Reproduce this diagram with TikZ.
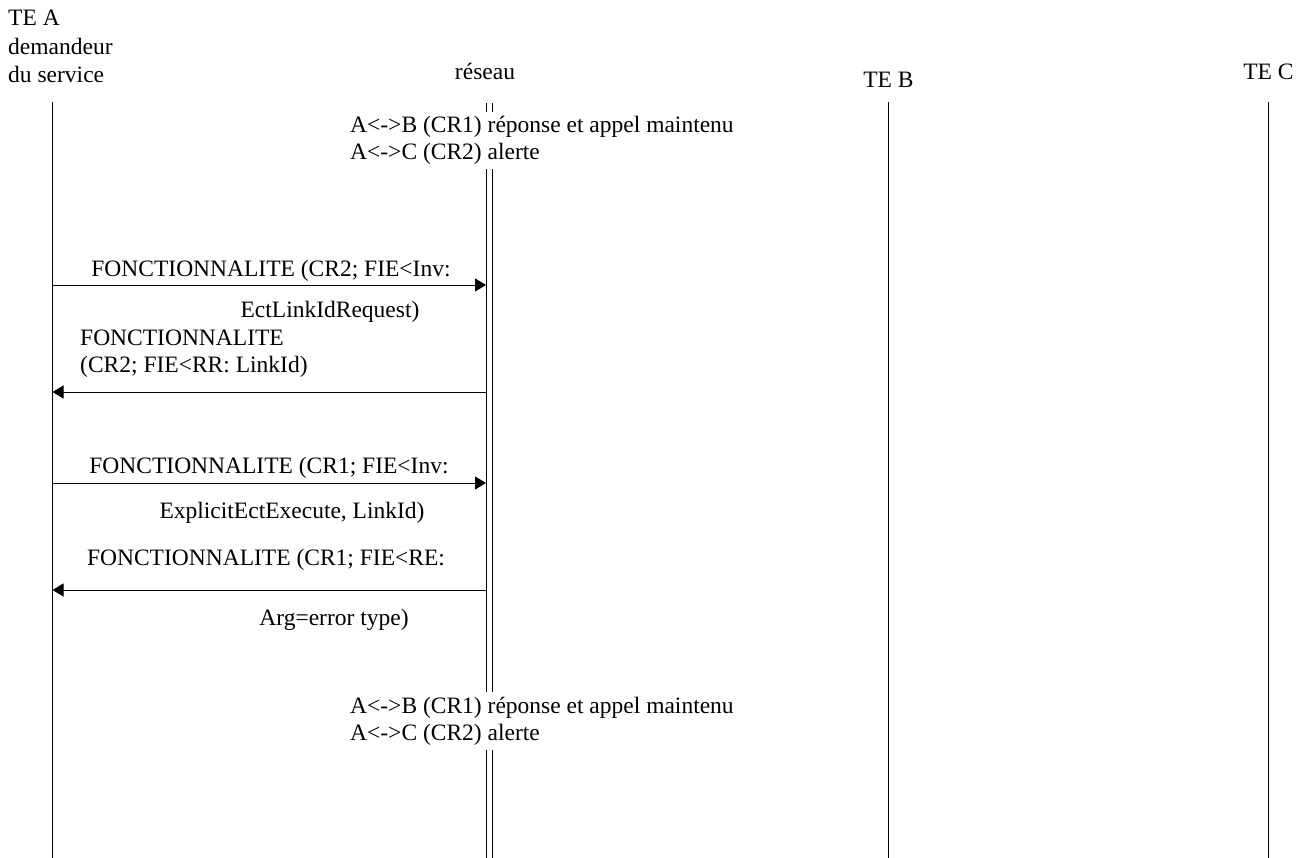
\documentclass[tikz,border=0pt]{standalone}
\usepackage{fontspec}
\setmainfont{Liberation Serif}
\usetikzlibrary{arrows.meta}
\begin{document}
\begin{tikzpicture}[x=1pt,y=-1pt,
  lbl/.style={font=\fontsize{23.5}{27}\selectfont, inner sep=0pt},
  life/.style={line width=1pt},
  msg/.style={line width=0.9pt,-{Triangle[length=11pt,width=13pt]}},
  note/.style={lbl, fill=white, inner ysep=4.5pt, inner xsep=0pt, anchor=base west}]
\useasboundingbox (0,0) rectangle (1307,858);

% headers
\node[lbl,anchor=base west] (ta1) at (8,26) {TE A};
\node[lbl,anchor=base west] (ta2) at (8,55) {demandeur};
\node[lbl,anchor=base west] (ta3) at (8,83) {du service};
\node[lbl,anchor=base] (net) at (485,80) {réseau};
\node[lbl,anchor=base] (teb) at (888.5,88) {TE B};
\node[lbl,anchor=base] (tec) at (1268.5,80) {TE C};

% lifelines
\coordinate (Atop) at (52.5,102); \coordinate (Abot) at (52.5,858);
\coordinate (Btop) at (888.5,102); \coordinate (Bbot) at (888.5,858);
\coordinate (Ctop) at (1268.5,102); \coordinate (Cbot) at (1268.5,858);
\coordinate (N1top) at (486,103); \coordinate (N1bot) at (486,858);
\coordinate (N2top) at (492.5,103); \coordinate (N2bot) at (492.5,858);
\draw[life] (Atop) -- (Abot);
\draw[life] (Btop) -- (Bbot);
\draw[life] (Ctop) -- (Cbot);
\draw[life] (N1top) -- (N1bot);
\draw[life] (N2top) -- (N2bot);

% notes on the network line
\node[note] (s1) at (350,133) {A<->B (CR1) réponse et appel maintenu};
\node[note] (s2) at (350,160) {A<->C (CR2) alerte};
\node[note] (e1) at (350,713) {A<->B (CR1) réponse et appel maintenu};
\node[note] (e2) at (350,740) {A<->C (CR2) alerte};

% message 1
\coordinate (a1) at (52.5,285); \coordinate (n1) at (486,285);
\draw[msg] (a1) -- (n1);
\node[lbl,anchor=base] (m1a) at (271,277) {FONCTIONNALITE (CR2; FIE<Inv:};
\node[lbl,anchor=base] (m1b) at (330,318) {EctLinkIdRequest)};

% message 2
\node[lbl,anchor=base west] (m2a) at (80,346) {FONCTIONNALITE};
\node[lbl,anchor=base west] (m2b) at (80,373) {(CR2; FIE<RR: LinkId)};
\coordinate (n2) at (486,392); \coordinate (a2) at (52.5,392);
\draw[msg] (n2) -- (a2);

% message 3
\coordinate (a3) at (52.5,483); \coordinate (n3) at (486,483);
\draw[msg] (a3) -- (n3);
\node[lbl,anchor=base] (m3a) at (269,473) {FONCTIONNALITE (CR1; FIE<Inv:};
\node[lbl,anchor=base] (m3b) at (292,518) {ExplicitEctExecute, LinkId)};

% message 4
\node[lbl,anchor=base] (m4a) at (266,565) {FONCTIONNALITE (CR1; FIE<RE:};
\coordinate (n4) at (486,590); \coordinate (a4) at (52.5,590);
\draw[msg] (n4) -- (a4);
\node[lbl,anchor=base] (m4b) at (334,625) {Arg=error type)};
\end{tikzpicture}
\end{document}
